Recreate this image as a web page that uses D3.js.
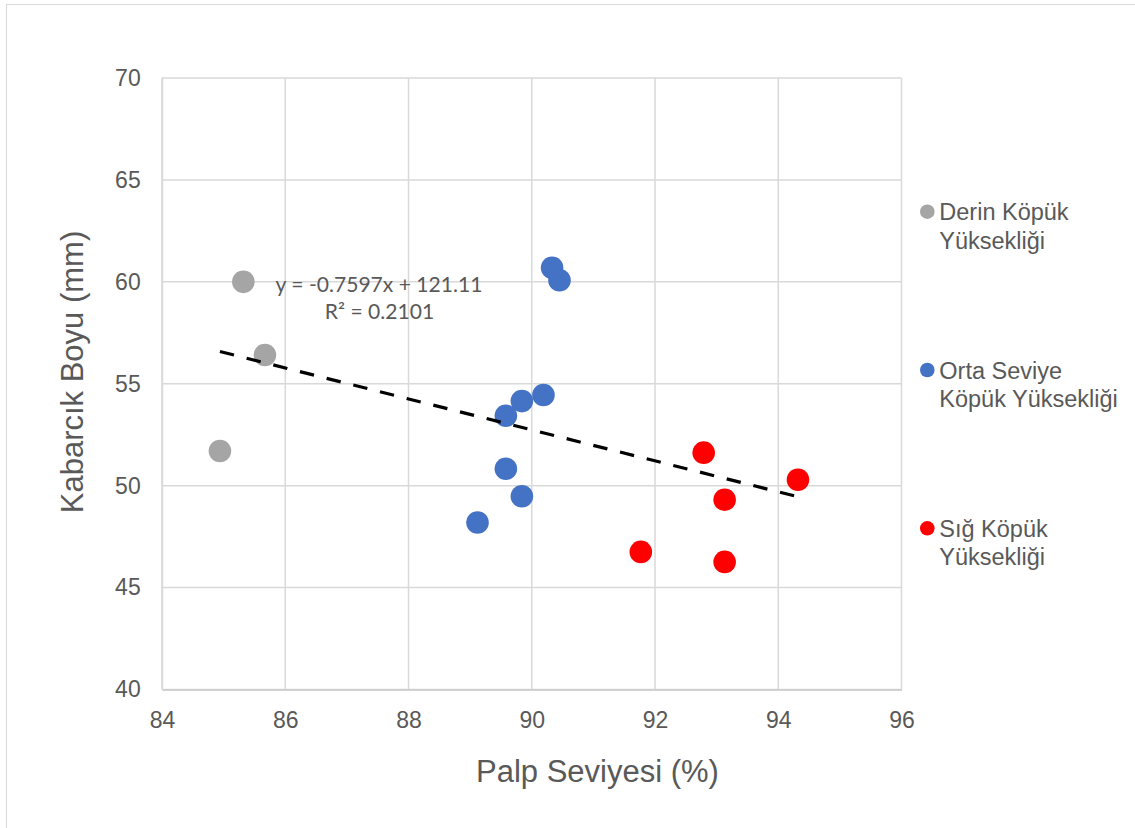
<!DOCTYPE html>
<html>
<head>
<meta charset="utf-8">
<script src="https://cdn.jsdelivr.net/npm/d3@7"></script>
<style>
  html, body { margin: 0; padding: 0; background: #fff; }
  svg { display: block; }
</style>
</head>
<body>
<svg id="chart" width="1135" height="828"></svg>
<script>
// ---- Data ----
const seriesNames = ["Derin Köpük Yüksekliği", "Orta Seviye Köpük Yüksekliği", "Sığ Köpük Yüksekliği"];
const legendLines = [["Derin Köpük", "Yüksekliği"], ["Orta Seviye", "Köpük Yüksekliği"], ["Sığ Köpük", "Yüksekliği"]];
const seriesColors = ["#a5a5a5", "#4472c4", "#ff0000"];

const derinX = [84.94, 85.32, 85.67];
const derinY = [51.70, 60.00, 56.41];

const ortaX = [90.33, 90.45, 90.19, 89.84, 89.58, 89.58, 89.84, 89.12];
const ortaY = [60.69, 60.08, 54.45, 54.15, 53.43, 50.83, 49.48, 48.19];

const sigX = [92.79, 94.32, 93.13, 91.77, 93.13];
const sigY = [51.62, 50.29, 49.31, 46.75, 46.26];

const xTicks = [84, 86, 88, 90, 92, 94, 96];
const yTicks = [40, 45, 50, 55, 60, 65, 70];

const trendSlope = -0.7597;
const trendIntercept = 121.11;
const trendEquation = "y = -0.7597x + 121.11";
const trendR2 = "R² = 0.2101";

const xTitle = "Palp Seviyesi (%)";
const yTitle = "Kabarcık Boyu (mm)";

// ---- Layout ----
const svg = d3.select("#chart");
const plot = { left: 162, right: 901.5, top: 78, bottom: 689.5 };
const font = "'Liberation Sans', Arial, sans-serif";
const textColor = "#595959";

const x = d3.scaleLinear().domain([84, 96]).range([plot.left, plot.right]);
const y = d3.scaleLinear().domain([40, 70]).range([plot.bottom, plot.top]);

// outer border
svg.append("rect")
  .attr("x", 6.5).attr("y", 4.5)
  .attr("width", 1140).attr("height", 840)
  .attr("fill", "none").attr("stroke", "#d9d9d9").attr("stroke-width", 1);

// gridlines
const grid = svg.append("g");
grid.selectAll("line.v").data(xTicks).join("line")
  .attr("x1", d => x(d)).attr("x2", d => x(d))
  .attr("y1", plot.top).attr("y2", plot.bottom)
  .attr("stroke", "#d9d9d9").attr("stroke-width", 1.5);
grid.selectAll("line.h").data(yTicks).join("line")
  .attr("x1", plot.left).attr("x2", plot.right)
  .attr("y1", d => y(d)).attr("y2", d => y(d))
  .attr("stroke", "#d9d9d9").attr("stroke-width", 1.5);

// axes
const xAxis = svg.append("g")
  .attr("transform", `translate(0,${plot.bottom})`)
  .call(d3.axisBottom(x).tickValues(xTicks).tickSize(0).tickPadding(22.5).tickFormat(d3.format("d")));
xAxis.select(".domain").attr("stroke", "#c8c8c8").attr("stroke-width", 1.5);
xAxis.selectAll("text").attr("fill", textColor).style("font-family", font).style("font-size", "23px");

const yAxis = svg.append("g")
  .attr("transform", `translate(${plot.left},0)`)
  .call(d3.axisLeft(y).tickValues(yTicks).tickSize(0).tickPadding(21.3).tickFormat(d3.format("d")));
yAxis.select(".domain").attr("stroke", "#d9d9d9").attr("stroke-width", 1.5);
yAxis.selectAll("text").attr("fill", textColor).attr("text-anchor", "end").style("font-family", font).style("font-size", "23px");

// axis titles
svg.append("text")
  .attr("x", 597.5).attr("y", 782)
  .attr("text-anchor", "middle")
  .attr("fill", textColor).style("font-family", font).style("font-size", "31px")
  .text(xTitle);
svg.append("text")
  .attr("transform", `translate(82.5,372) rotate(-90)`)
  .attr("text-anchor", "middle")
  .attr("fill", textColor).style("font-family", font).style("font-size", "31px")
  .text(yTitle);

// points
const series = [
  { xs: derinX, ys: derinY, color: seriesColors[0] },
  { xs: ortaX, ys: ortaY, color: seriesColors[1] },
  { xs: sigX, ys: sigY, color: seriesColors[2] }
];
const allX = [];
series.forEach(s => {
  const pts = s.xs.map((v, i) => [v, s.ys[i]]);
  pts.forEach(p => allX.push(p[0]));
  svg.append("g").selectAll("circle").data(pts).join("circle")
    .attr("cx", d => x(d[0])).attr("cy", d => y(d[1]))
    .attr("r", 11.3).attr("fill", s.color);
});

// trendline
const xMin = d3.min(allX), xMax = d3.max(allX);
svg.append("line")
  .attr("x1", x(xMin)).attr("y1", y(trendSlope * xMin + trendIntercept))
  .attr("x2", x(xMax)).attr("y2", y(trendSlope * xMax + trendIntercept))
  .attr("stroke", "#000").attr("stroke-width", 3.2)
  .attr("stroke-dasharray", "14.5,13");

// equation label (fit font size to the reference width)
const eqFont = "Lato, 'Open Sans', sans-serif";
const eq1 = svg.append("text").attr("x", 379).attr("y", 291.5)
  .attr("text-anchor", "middle").attr("fill", textColor)
  .style("font-family", eqFont).style("font-size", "20px")
  .text(trendEquation);
const w = eq1.node().getComputedTextLength();
const eqSize = 20 * 207 / (w || 207);
eq1.style("font-size", eqSize + "px");
svg.append("text").attr("x", 379.5).attr("y", 318.5)
  .attr("text-anchor", "middle").attr("fill", textColor)
  .style("font-family", eqFont).style("font-size", eqSize + "px")
  .text(trendR2);

// legend
const legendY = [211.7, 370, 528.3];
const leg = svg.append("g");
legendLines.forEach((lines, i) => {
  leg.append("circle").attr("cx", 927.3).attr("cy", legendY[i]).attr("r", 7.3).attr("fill", seriesColors[i]);
  lines.forEach((t, j) => {
    leg.append("text").attr("x", 939.3).attr("y", legendY[i] + 8.7 + j * 28.2)
      .attr("fill", textColor).style("font-family", font).style("font-size", "23.5px")
      .text(t);
  });
});
</script>
</body>
</html>
